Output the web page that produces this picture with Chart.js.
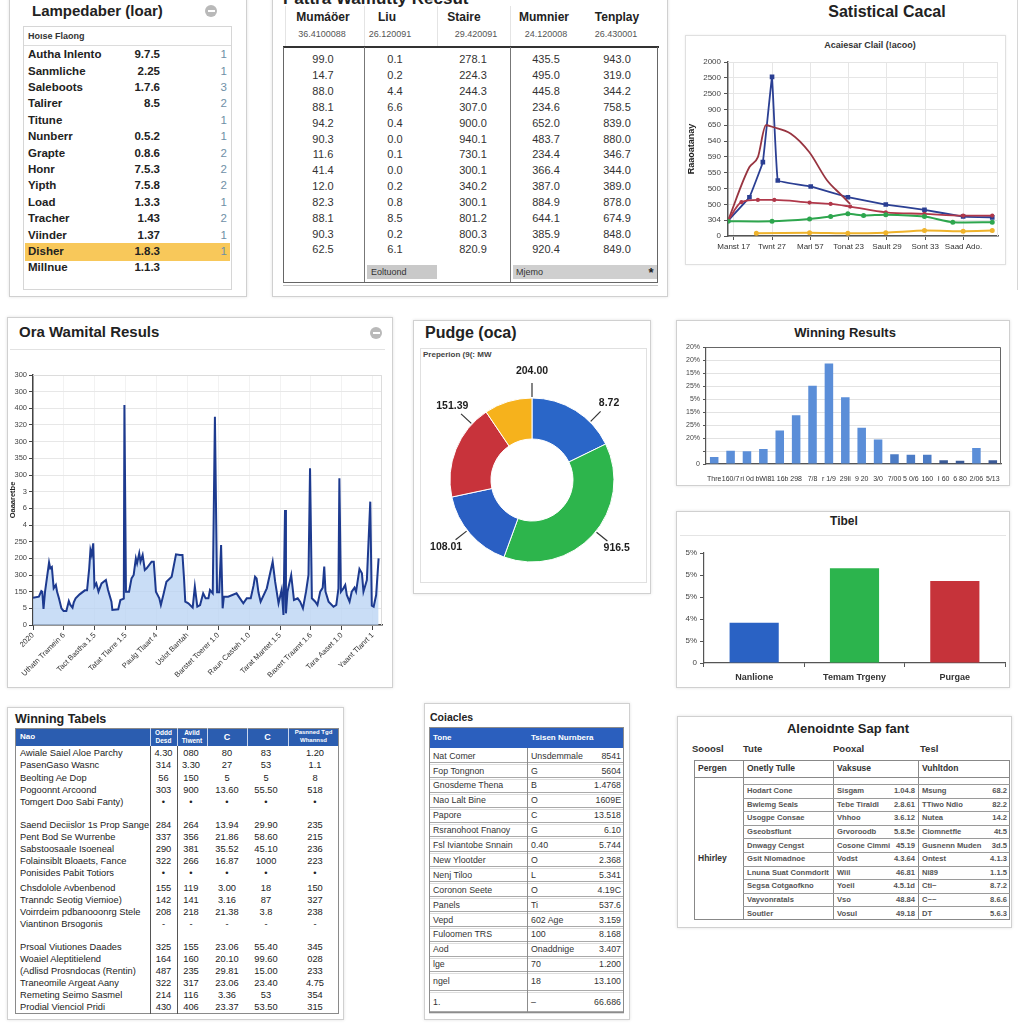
<!DOCTYPE html>
<html><head><meta charset="utf-8"><title>Dashboard</title>
<script src="https://cdn.jsdelivr.net/npm/chart.js@4.4.1/dist/chart.umd.min.js"></script>
<style>
html,body{margin:0;padding:0;background:#fff}
body{width:1024px;height:1024px;position:relative;overflow:hidden;font-family:"Liberation Sans",Arial,Helvetica,sans-serif;color:#222}
</style></head><body>
<script>
// ================= DATA =================
// Top-left table
const lampNames = ["Autha Inlento","Sanmliche","Saleboots","Talirer","Titune","Nunberr","Grapte","Honr","Yipth","Load","Tracher","Viinder","Disher","Millnue"];
const lampValues = ["9.7.5","2.25","1.7.6","8.5","","0.5.2","0.8.6","7.5.3","7.5.8","1.3.3","1.43","1.37","1.8.3","1.1.3"];
const lampCounts = ["1","1","3","2","1","1","2","2","2","1","2","1","1",""];

// Top-middle table
const midHeaders = ["Mumáöer","Liu","Staire","Mumnier","Tenplay"];
const midSubHeaders = ["36.4100088","26.120091","29.420091","24.120008","26.430001"];
const midCol1 = ["99.0","14.7","88.0","88.1","94.2","90.3","11.6","41.4","12.0","82.3","88.1","90.3","62.5"];
const midCol2 = ["0.1","0.2","4.4","6.6","0.4","0.0","0.1","0.0","0.2","0.8","8.5","0.2","6.1"];
const midCol3 = ["278.1","224.3","244.3","307.0","900.0","940.1","730.1","300.1","340.2","300.1","801.2","800.3","820.9"];
const midCol4 = ["435.5","495.0","445.8","234.6","652.0","483.7","234.4","366.4","387.0","884.9","644.1","385.9","920.4"];
const midCol5 = ["943.0","319.0","344.2","758.5","839.0","880.0","346.7","344.0","389.0","878.0","674.9","848.0","849.0"];

// Top-right line chart (values in tick-step units of the y axis)
const lineYLabels = ["0","304","500","500","550","590","540","650","900","2500","2500","2000"];
const lineXTicks = [-1,0,1,2,3,4,5];
const lineXLabels = ["Manst 17","Twnt 27","Marl 57","Tonat 23","Sault 29","Sont 33","Saad Ado."];
const blueX  = [-1.15,-0.59,-0.24,0,0.15,1.01,1.98,2.97,3.98,4.99,5.75];
const blueY  = [0.97,2.45,4.67,10.06,3.51,3.13,2.45,1.99,1.65,1.23,1.18];
const maroonX = [-1.15,-0.59,-0.37,-0.16,0.02,0.49,0.97,1.44,1.78,2.04];
const maroonY = [0.97,4.36,4.99,7.0,6.89,6.47,5.31,3.51,2.66,2.03];
const redX   = [-1.15,-0.8,-0.37,0.06,0.98,1.53,2.04,2.97,3.98,4.99,5.75];
const redY   = [0.97,2.14,2.28,2.28,2.11,2.03,1.86,1.5,1.4,1.29,1.29];
const greenX = [-1.15,0,0.98,1.53,1.98,2.39,2.97,3.98,4.72,5.75];
const greenY = [0.93,0.93,1.08,1.23,1.4,1.29,1.35,1.23,0.87,0.87];
const goldX  = [-0.41,0.98,1.98,2.97,3.98,4.99,5.75];
const goldY  = [0.17,0.21,0.17,0.21,0.34,0.3,0.34];

// Middle-left area chart
const areaYLabels = ["0","5","150","300","200","250","4","6","3","300","350","300","320","400","300","300"];
const areaXLabels = ["2020","Uthatn Tramein 6","Tact Bastha 1.5","Tatat Tlarre 1.5","Paulg Tlaart 4","Uslot Bantah","Barstet Toerer 1.0","Raun Casteh 1.0","Tarat Mantet 1.5","Baxert Traamt 1.6","Tara Aaset 1.0","Yaant Tlanrt 1"];
const areaX = [0,0.19,0.27,0.30,0.34,0.39,0.52,0.56,0.61,0.67,0.74,0.78,0.84,0.92,0.99,1.08,1.16,1.21,1.28,1.32,1.38,1.51,1.68,1.75,1.82,1.86,1.90,1.95,1.99,2.05,2.12,2.22,2.36,2.43,2.54,2.57,2.76,2.83,2.94,2.96,3.01,3.11,3.19,3.26,3.33,3.37,3.44,3.48,3.55,3.62,3.68,3.84,3.91,3.98,4.09,4.14,4.22,4.32,4.49,4.63,4.76,4.84,4.89,4.93,5.03,5.17,5.24,5.32,5.41,5.51,5.59,5.68,5.73,5.82,5.89,5.96,6.03,6.09,6.14,6.18,6.32,6.59,6.70,6.81,6.92,7.05,7.14,7.19,7.24,7.30,7.37,7.57,7.76,7.84,7.95,8.05,8.11,8.16,8.19,8.24,8.36,8.45,8.57,8.65,8.74,8.84,8.92,8.97,9.03,9.14,9.21,9.30,9.38,9.43,9.47,9.57,9.73,9.82,9.89,9.92,9.97,10.05,10.11,10.16,10.25,10.32,10.41,10.46,10.57,10.65,10.70,10.81,10.92,10.97,11.03,11.11,11.19];
const areaY = [1.64,1.70,2.04,2.00,0.96,2.00,3.76,3.40,3.48,2.20,2.40,2.00,1.60,1.00,0.84,0.84,1.44,1.20,1.04,1.36,1.60,1.84,2.08,2.08,3.40,4.50,4.20,4.90,2.30,2.50,2.00,2.50,2.70,2.10,1.40,0.90,0.94,1.50,1.58,13.20,2.00,2.00,2.80,3.00,4.00,3.70,4.30,3.80,4.20,3.30,3.40,3.80,3.80,2.00,1.60,1.20,1.80,2.60,2.90,4.24,4.20,4.20,2.80,1.40,1.30,1.04,2.30,1.10,1.20,1.90,1.60,1.60,2.10,1.90,12.50,1.96,1.96,4.80,1.00,1.70,1.70,1.90,1.60,1.30,1.60,1.60,2.36,2.90,2.80,1.96,1.40,2.20,3.80,2.60,1.30,2.10,0.60,6.90,0.70,2.00,3.00,1.50,1.60,1.40,1.00,2.00,3.00,9.40,1.60,1.40,1.20,2.00,2.24,3.50,2.00,1.40,1.10,1.20,2.20,8.80,2.00,2.20,2.40,1.80,1.40,2.00,2.24,2.00,3.36,3.10,2.00,2.70,7.40,1.16,1.10,1.80,4.00];

// Doughnut
const pudgeValues = [64,136,58,68,34];
const pudgeLabels = ["8.72","916.5","108.01","151.39","204.00"];
const pudgeColors = ["#2a66c8","#2db54c","#2a5fc3","#c8333b","#f6b21c"];

// Histogram
const histLabels = ["Thre","160/7","ri 0d","bWi8","1 16b","298","7/8","r 1/9","29li","9 20","3/0","7/00","5 0/6","160","I 60","6 80","2/06","5/13"];
const histValues = [0.54,1.03,0.98,1.16,2.58,3.75,6.02,7.75,5.14,2.79,1.89,0.75,0.72,0.72,0.28,0.26,1.24,0.28];
const histYLabels = ["0","","20%","25%","15%","5%","25%","15%","20%","20%"];
const histColors = ["#5b8ed8","#5b8ed8","#5b8ed8","#5b8ed8","#5b8ed8","#5b8ed8","#5b8ed8","#5b8ed8","#5b8ed8","#5b8ed8","#5b8ed8","#4c7cc6","#4c7cc6","#4c7cc6","#3b5b98","#3b5b98","#5b8ed8","#3b5b98"];

// Tibel bars
const tibelLabels = ["Nanlione","Temam Trgeny","Purgae"];
const tibelValues = [1.83,4.31,3.73];
const tibelYLabels = ["0","5%","4%","5%","5%","5%"];
const tibelColors = ["#2a62c4","#2cb44d","#c6333a"];

// Winning Tabels (null = group gap)
const winHeader = ["Nao","Oddd|Desd","Aviid|Tiwent","C","C","Pasnned Tgd|Whannsd"];
const winRows = [
 ["Awiale Saiel Aloe Parchy","4.30","080","80","83","1.20"],
 ["PasenGaso Wasnc","314","3.30","27","53","1.1"],
 ["Beolting Ae Dop","56","150","5","5","8"],
 ["Pogoonnt Arcoond","303","900","13.60","55.50","518"],
 ["Tomgert Doo Sabi Fanty)","•","•","•","•","•"],
 null,
 ["Saend Deciislor 1s Prop Sange","284","264","13.94","29.90","235"],
 ["Pent Bod Se Wurrenbe","337","356","21.86","58.60","215"],
 ["Sabstoosaale Isoeneal","290","381","35.52","45.10","236"],
 ["Folainsiblt Bloaets, Fance","322","266","16.87","1000","223"],
 ["Ponisides Pabit Totiors","•","•","•","•","•"],
 null,
 ["Chsdolole Avbenbenod","155","119","3.00","18","150"],
 ["Tranndc Seotig Viemioe)","142","141","3.16","87","327"],
 ["Voirrdeim pdbanooonrg Stele","208","218","21.38","3.8","238"],
 ["Viantinon Brsogonis","-","-","-","-","-"],
 null,
 ["Prsoal Viutiones Daades","325","155","23.06","55.40","345"],
 ["Woaiel Aleptitielend","164","160","20.10","99.60","028"],
 ["(Adlisd Prosndocas (Rentin)","487","235","29.81","15.00","233"],
 ["Traneomile Argeat Aany","322","317","23.06","23.40","4.75"],
 ["Remeting Seimo Sasmel","214","116","3.36","53","354"],
 ["Prodial Vienciol Pridi","430","406","23.37","53.50","315"]
];

// Coiacles table
const coiHeader = ["Tone","Tsisen Nurnbera"];
const coiRows = [
 ["Nat Comer","Unsdemmale","8541"],["Fop Tongnon","G","5604"],["Gnosdeme Thena","B","1.4768"],
 ["Nao Lalt Bine","O","1609E"],["Papore","C","13.518"],["Rsranohoot Fnanoy","G","6.10"],
 ["Fsl Iviantobe Snnain","0.40","5.744"],["New Ylootder","O","2.368"],["Nenj Tiloo","L","5.341"],
 ["Coronon Seete","O","4.19C"],["Panels","Ti","537.6"],["Vepd","602 Age","3.159"],
 ["Fuloomen TRS","100","8.168"],["Aod","Onaddnige","3.407"],["lge","70","1.200"],
 ["ngel","18","13.100"],["1.","–","66.686"]
];

// Alenoidnte Sap fant table
const alenTop = ["Sooosl","Tute","Pooxal","Tesl"];
const alenHeader = ["Pergen","Onetly Tulle","Vaksuse","Vuhltdon"];
const alenGroup = "Hhirley";
const alenRows = [
 ["Hodart Cone","Sisgam","1.04.8","Msung","68.2"],
 ["Bwlemg Seals","Tebe Tiraldl","2.8.61","TTiwo Ndio","82.2"],
 ["Usogpe Consae","Vhhoo","3.6.12","Nutea","14.2"],
 ["Gseobsflunt","Grvoroodb","5.8.5e","Ciomnetfle","4t.5"],
 ["Dnwagy Cengst","Cosone Cimmi","45.19","Gusnenn Muden","3d.5"],
 ["Gsit Nlomadnoe","Vodst","4.3.64","Ontest","4.1.3"],
 ["Lnuna Suat Conmdorlt","Wiil","46.81","Ni89","1.1.5"],
 ["Segsa Cotgaofkno","Yoeil","4.5.1d","Cti~","8.7.2"],
 ["Vayvonratals","Vso","48.84","C~~","8.6.6"],
 ["Soutler","Vosul","49.18","DT","5.6.3"]
];

// ================= HELPERS =================
const root = document.body;
function box(x,y,w,h,css){const d=document.createElement('div');d.style.cssText=`position:absolute;left:${x}px;top:${y}px;width:${w}px;height:${h}px;box-sizing:border-box;${css||''}`;root.appendChild(d);return d;}
function panel(x,y,w,h){return box(x,y,w,h,'border:1px solid #d0d0d0;box-shadow:0 0 3px rgba(0,0,0,.12);background:#fff');}
function hl(x1,x2,y,c,t){return box(x1,y,x2-x1,t||1,`background:${c}`);}
function vl(x,y1,y2,c,t){return box(x,y1,t||1,y2-y1,`background:${c}`);}
function txt(s,x,y,o){o=o||{};const d=document.createElement('div');d.textContent=s;const fs=o.fs||10;const a=o.a||'l';
 let css=`position:absolute;white-space:nowrap;font-size:${fs}px;line-height:${(fs*1.2).toFixed(2)}px;top:${(y-fs*0.6).toFixed(2)}px;font-weight:${o.b?'bold':'normal'};color:${o.c||'#222'};`;
 if(a==='l') css+=`left:${x}px;`; else if(a==='r') css+=`left:${x-300}px;width:300px;text-align:right;`; else css+=`left:${x-150}px;width:300px;text-align:center;`;
 d.style.cssText=css+(o.css||'');root.appendChild(d);return d;}
function icon(x,y){box(x-6,y-6,12,12,'border-radius:50%;background:#b9b9b9');box(x-3.5,y-0.75,7,1.5,'background:#fff');}
function cv(x,y,w,h){const c=document.createElement('canvas');c.width=w;c.height=h;c.style.cssText=`position:absolute;left:${x}px;top:${y}px;width:${w}px;height:${h}px`;root.appendChild(c);return c;}

// ================= PANEL 1 =================
panel(9,-3,238,300);
txt("Lampedaber (loar)",32,11,{fs:15,b:1});
icon(211,11);
box(23,26,209,264,'border:1px solid #d6d6d6');
txt("Hoıse Flaong",28,36,{fs:9,b:1,c:'#333'});
hl(24,231,45,'#dcdcdc');
box(25,243,205,18,'background:#f8c85a');
lampNames.forEach((n,i)=>{const y=55+16.4*i;txt(n,28,y,{fs:11.5,b:1});txt(lampValues[i],160,y,{fs:11.5,b:1,a:'r'});txt(lampCounts[i],227,y,{fs:11.5,c:'#6f8fa6',a:'r'});});

// ================= PANEL 2 =================
panel(272,-3,396,300);
txt("Pattra Wamutty Recsut",283,-1,{fs:17,b:1});
const midHC=[323,387,464,544,617], midSC=[322,390,476,546,616], midDC=[323,395,473,546,617];
midHeaders.forEach((h,i)=>txt(h,midHC[i],17,{fs:12,b:1,a:'c'}));
midSubHeaders.forEach((h,i)=>txt(h,midSC[i],34,{fs:9,c:'#555',a:'c'}));
[285,364,437,510].forEach(x=>vl(x,6,46,'#e4e4e4'));
hl(283,659,46,'#333',2);
vl(283,47,283,'#666');vl(657,47,283,'#666');vl(364,47,283,'#777');vl(510,47,283,'#777');
hl(283,658,282,'#666');hl(283,658,285,'#c4c4c4');
[midCol1,midCol2,midCol3,midCol4,midCol5].forEach((col,j)=>col.forEach((v,i)=>txt(v,midDC[j],60+15.83*i,{fs:11,c:'#333',a:'c'})));
box(367,265,70,14,'background:#c9c9c9');txt("Eoltuond",371,272,{fs:9,c:'#333'});
box(513,265,144,14,'background:#cfcfcf');txt("Mjemo",516,272,{fs:9,c:'#333'});txt("*",651,273,{fs:13,b:1,a:'c'});

// ================= PANEL 3 =================
vl(1017,0,290,'#d6d6d6');
txt("Satistical Cacal",887,12,{fs:16,b:1,a:'c'});
box(685,35,321,230,'border:1px solid #e0e0e0;box-shadow:0 0 2px rgba(0,0,0,.08)');
txt("Acaiesar Clail (!acoo)",870,45,{fs:9,b:1,a:'c',c:'#333'});
const cLine=cv(686,36,318,228);

// ================= PANEL 4 =================
panel(7,317,386,371);
txt("Ora Wamital Resuls",19,332,{fs:15,b:1});
icon(376,333);
hl(10,385,349,'#e2e2e2');
const cArea=cv(8,355,384,332);

// ================= PANEL 5 =================
panel(413,320,238,274);
txt("Pudge (oca)",425,333,{fs:16,b:1});
box(420,348,227,235,'border:1px solid #e0e0e0');
txt("Preperion (9(: MW",423,355,{fs:8,b:1,c:'#444'});
const cPie=cv(421,362,222,220);

// ================= PANEL 6 =================
panel(676,320,334,166);
txt("Winning Results",845,333,{fs:13,b:1,a:'c'});
const cHist=cv(678,340,330,143);

// ================= PANEL 7 =================
panel(676,511,334,177);
txt("Tibel",844,521,{fs:12,b:1,a:'c'});
hl(680,1006,535,'#e4e4e4');
const cBar=cv(678,540,330,146);

// ================= PANEL 8 =================
panel(7,707,337,313);
txt("Winning Tabels",15,719,{fs:12.5,b:1});
(function(){
 const L=15,R=339,T=728,HB=746,B=1014;const cols=[15,150,177,207,247,288,339];
 box(L,T,R-L,HB-T,'background:#2b5db0');
 box(L,T,R-L,B-T,'border:1px solid #8a8a8a');
 [150,177,207,247,288].forEach(x=>vl(x,T,HB,'#c9d6ee'));
 vl(150,HB,B,'#555');vl(177,HB,B,'#555');
 winHeader.forEach((h,i)=>{const cx=(cols[i]+cols[i+1])/2;const parts=h.split('|');
   if(i===0) txt(h,20,737,{fs:8,b:1,c:'#fff'});
   else if(parts.length===1) txt(h,cx,737,{fs:9,b:1,c:'#fff',a:'c'});
   else {const f=i===5?6:6.5;txt(parts[0],cx,733,{fs:f,b:1,c:'#fff',a:'c'});txt(parts[1],cx,741,{fs:f,b:1,c:'#fff',a:'c'});}
 });
 const gaps=[11,3,11];let g=0;let y=748;const step=12.05;const numC=[163.5,191,227,266,315];
 winRows.forEach(r=>{ if(r===null){y+=gaps[g++];return;}
   const cy=y+step/2; txt(r[0],20,cy,{fs:9.3,c:'#222'});
   for(let j=1;j<6;j++) txt(r[j],numC[j-1],cy,{fs:9.3,c:'#222',a:'c'});
   y+=step; });
})();

// ================= PANEL 9 =================
panel(424,703,206,317);
txt("Coiacles",430,717,{fs:10.5,b:1});
(function(){
 const L=429,R=624,T=727,HB=748,M=527;
 box(L,T,R-L,HB-T,'background:#2b5fbe');
 txt(coiHeader[0],433,737.5,{fs:8,b:1,c:'#fff'});txt(coiHeader[1],531,737.5,{fs:8,b:1,c:'#fff'});
 let y=HB;
 coiRows.forEach((r,i)=>{const h=i<15?14.9:(i===15?19.5:21);const cy=y+h/2+0.5;
   txt(r[0],433,cy,{fs:8.8,c:'#333'});txt(r[1],531,cy,{fs:8.8,c:'#333'});txt(r[2],621,cy,{fs:8.8,c:'#333',a:'r'});
   y+=h; hl(L,R,y-1,'#a9a9a9');hl(L,R,y+1,'#dedede');});
 box(L,T,R-L,y-T+1,'border:1px solid #8c8c8c');
 vl(M,HB,y,'#8c8c8c');
})();

// ================= PANEL 10 =================
panel(677,716,335,212);
txt("Alenoidnte Sap fant",848,729,{fs:13,b:1,a:'c'});
(function(){
 const tops=[692,743,833,920];alenTop.forEach((s,i)=>txt(s,tops[i],749,{fs:9.5,b:1,c:'#333'}));
 const L=694,R=1010,T=760,HB=777,BL=784,B=920;const cx=[694,743,833,918,1010];
 box(L,T,R-L,B-T,'border:1px solid #888');
 [743,833,918].forEach(x=>vl(x,T,B,'#888'));
 hl(L,R,HB,'#888');hl(743,R,BL,'#999');
 alenHeader.forEach((h,i)=>txt(h,cx[i]+4,768.5,{fs:8.5,b:1,c:'#333'}));
 txt(alenGroup,698,858,{fs:8.5,b:1,c:'#333'});
 const step=13.6;
 alenRows.forEach((r,i)=>{const cy=BL+step*i+step/2;const o={fs:7.6,b:1,c:'#555'};
   txt(r[0],747,cy,o);txt(r[1],837,cy,o);txt(r[2],915,cy,Object.assign({a:'r'},o));txt(r[3],922,cy,o);txt(r[4],1007,cy,Object.assign({a:'r'},o));
   if(i<alenRows.length-1) hl(743,R,BL+step*(i+1),'#9a9a9a');});
})();

// ================= CHARTS =================
Chart.defaults.font.family = '"Liberation Sans", Arial, sans-serif';
Chart.defaults.animation = false;
Chart.defaults.responsive = false;
Chart.defaults.plugins.legend.display = false;
Chart.defaults.plugins.tooltip.enabled = false;

const framePlugin = {id:'frame', afterDatasetsDraw(ch,args,opts){ if(!opts||!opts.color) return; const a=ch.chartArea,ctx=ch.ctx;
  ctx.save();ctx.strokeStyle=opts.color;ctx.lineWidth=opts.width||1;ctx.beginPath();
  ctx.moveTo(a.left,Math.round(a.top)+0.5);ctx.lineTo(Math.round(a.right)-0.5,Math.round(a.top)+0.5);ctx.lineTo(Math.round(a.right)-0.5,a.bottom);ctx.stroke();ctx.restore();}};
const leaderPlugin = {id:'leaders', afterDraw(ch,args,opts){ if(!opts||!opts.labels) return; const meta=ch.getDatasetMeta(0),ctx=ch.ctx;
  ctx.save();ctx.strokeStyle='#333';ctx.lineWidth=1.2;ctx.fillStyle='#1e1e1e';ctx.font='bold 10.5px "Liberation Sans", Arial';ctx.textAlign='center';ctx.textBaseline='middle';
  meta.data.forEach((arc,i)=>{const p=arc.getProps(['x','y','startAngle','endAngle','outerRadius'],true);
    const a=(p.startAngle+p.endAngle)/2+(opts.shift[i]||0)*Math.PI/180;const c=Math.cos(a),s=Math.sin(a),r=p.outerRadius;
    ctx.beginPath();ctx.moveTo(p.x+c*(r+1),p.y+s*(r+1));ctx.lineTo(p.x+c*(r+15),p.y+s*(r+15));ctx.stroke();
    ctx.fillText(opts.labels[i],p.x+c*(r+27),p.y+s*(r+27));});
  ctx.restore();}};
Chart.register(framePlugin, leaderPlugin);

const zip=(xs,ys)=>xs.map((x,i)=>({x:x,y:ys[i]}));
const axisCol='#555';

// ---- Line chart
new Chart(cLine,{type:'line',
 data:{datasets:[
  {data:zip(goldX,goldY),borderColor:'#efb32c',borderWidth:2,pointRadius:1.5,pointBackgroundColor:'#efb32c',tension:0.2},
  {data:zip(greenX,greenY),borderColor:'#2ea64e',borderWidth:2,pointRadius:1.5,pointBackgroundColor:'#2ea64e',tension:0.2},
  {data:zip(redX,redY),borderColor:'#b0384a',borderWidth:1.8,pointRadius:1.2,pointBackgroundColor:'#b0384a',cubicInterpolationMode:'monotone'},
  {data:zip(maroonX,maroonY),borderColor:'#983440',borderWidth:1.8,pointRadius:0,cubicInterpolationMode:'monotone'},
  {data:zip(blueX,blueY),borderColor:'#2b3f93',borderWidth:1.8,pointRadius:2,pointStyle:'rect',pointBackgroundColor:'#2b3f93',tension:0.05}
 ]},
 options:{layout:{padding:{top:26,right:4,left:0,bottom:0}},
  plugins:{frame:{color:'#e4e4e4'}},
  scales:{
   x:{type:'linear',min:-1.15,max:5.9,
      afterBuildTicks:s=>{s.ticks=lineXTicks.map(v=>({value:v}));},
      afterFit:s=>{s.height=28;},
      ticks:{autoSkip:false,maxRotation:0,font:{size:8},color:'#333',padding:2,callback:(v,i)=>lineXLabels[i]},
      grid:{color:'#e6e6e6',tickColor:axisCol,tickLength:4},border:{color:axisCol,width:1.5}},
   y:{min:0,max:11,
      afterFit:s=>{s.width=42;},
      ticks:{stepSize:1,font:{size:8},color:'#444',padding:3,callback:v=>lineYLabels[Math.round(v)]},
      title:{display:true,text:'Raaoatanay',font:{size:9,weight:'bold'},color:'#222',padding:0},
      grid:{color:'#e6e6e6',tickColor:axisCol,tickLength:4},border:{color:axisCol,width:1.5}}
  }}});

// ---- Area chart
new Chart(cArea,{type:'line',
 data:{datasets:[{data:zip(areaX,areaY),borderColor:'#1d3a8f',borderWidth:2,backgroundColor:'rgba(183,210,243,0.75)',fill:'origin',pointRadius:0,tension:0}]},
 options:{layout:{padding:{top:20,right:10,left:0,bottom:0}},
  plugins:{frame:{color:'#dcdcdc'}},
  scales:{
   x:{type:'linear',min:0,max:11.3,
      afterBuildTicks:s=>{s.ticks=areaXLabels.map((l,i)=>({value:i}));},
      afterFit:s=>{s.height=62;},
      ticks:{autoSkip:false,minRotation:45,maxRotation:45,font:{size:7.5},color:'#333',padding:1,callback:(v,i)=>areaXLabels[i]},
      grid:{color:'rgba(0,0,0,0.05)',tickColor:'#444',tickLength:5},border:{color:'#444',width:1.5}},
   y:{min:0,max:15,
      afterFit:s=>{s.width=25;},
      ticks:{stepSize:1,font:{size:7.5},color:'#444',padding:2,callback:v=>areaYLabels[Math.round(v)]},
      title:{display:true,text:'Oaaaretbe',font:{size:7.5,weight:'bold'},color:'#222',padding:0},
      grid:{color:'#e7e7e7',tickColor:'#444',tickLength:4},border:{color:'#444',width:1.5}}
  }}});

// ---- Doughnut
new Chart(cPie,{type:'doughnut',
 data:{labels:pudgeLabels,datasets:[{data:pudgeValues,backgroundColor:pudgeColors,borderColor:'#ffffff',borderWidth:1,radius:82,cutout:'50%'}]},
 options:{layout:{padding:{top:16}},rotation:0,plugins:{leaders:{labels:pudgeLabels,shift:[13,-3,3,21,17]}}}});

// ---- Histogram
new Chart(cHist,{type:'bar',
 data:{labels:histLabels,datasets:[{data:histValues,backgroundColor:histColors,barPercentage:0.52,categoryPercentage:1}]},
 options:{layout:{padding:{top:7,right:7,left:0,bottom:0}},
  plugins:{frame:{color:'#666'}},
  scales:{
   x:{afterFit:s=>{s.height=19;},ticks:{autoSkip:false,maxRotation:0,font:{size:7},color:'#333',padding:3},grid:{display:false},border:{color:'#555',width:1.2}},
   y:{min:0,max:9,afterFit:s=>{s.width=28;},ticks:{stepSize:1,font:{size:7},color:'#444',padding:3,callback:v=>histYLabels[Math.round(v)]},
      grid:{color:'#e2e2e2',tickColor:'#555',tickLength:3},border:{color:'#555',width:1.2}}
  }}});

// ---- Tibel bars
new Chart(cBar,{type:'bar',
 data:{labels:tibelLabels,datasets:[{data:tibelValues,backgroundColor:tibelColors,barPercentage:0.49,categoryPercentage:1}]},
 options:{layout:{padding:{top:13,right:3,left:0,bottom:0}},
  scales:{
   x:{afterFit:s=>{s.height=23;},ticks:{font:{size:9,weight:'bold'},color:'#333',padding:5},grid:{drawOnChartArea:false,tickColor:'#555',tickLength:4},border:{color:'#555',width:1.2}},
   y:{min:0,max:5,afterFit:s=>{s.width=26;},ticks:{stepSize:1,font:{size:8},color:'#444',padding:3,callback:v=>tibelYLabels[Math.round(v)]},
      grid:{drawOnChartArea:false,tickColor:'#555',tickLength:4},border:{color:'#555',width:1.2}}
  }}});
</script>
</body></html>
